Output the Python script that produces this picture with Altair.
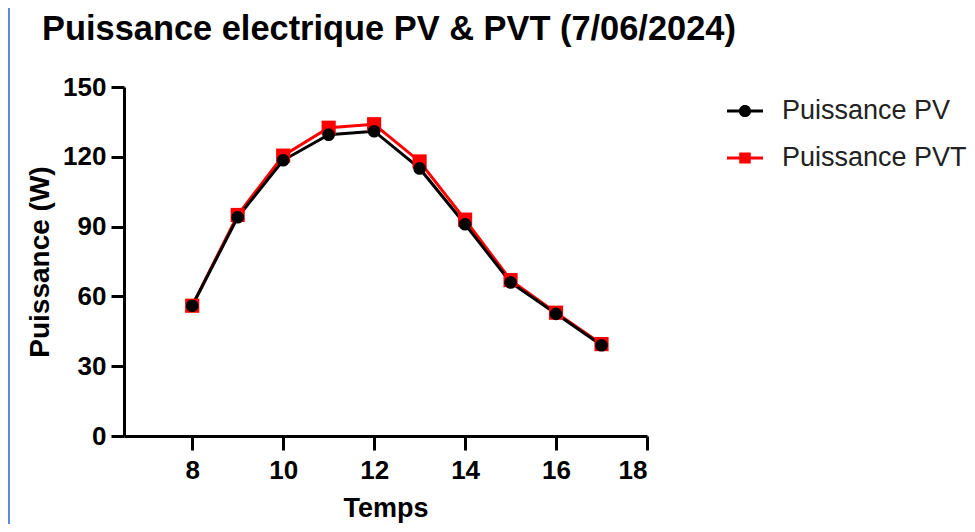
import altair as alt
import pandas as pd

hours = [8, 9, 10, 11, 12, 13, 14, 15, 16, 17]
pv = [56, 94, 118.5, 129.5, 131, 115, 91, 66, 52.5, 39]
pvt = [56, 95, 120.5, 132.5, 134, 118, 93, 67, 53, 39.5]
series = ["Puissance PV", "Puissance PVT"]
colors = ["#000000", "#FF0000"]

rows = []
for h, v in zip(hours, pvt):
    rows.append({"Temps": h, "P": v, "Serie": series[1]})
for h, v in zip(hours, pv):
    rows.append({"Temps": h, "P": v, "Serie": series[0]})
df = pd.DataFrame(rows)

FONT = "Liberation Sans"

x_enc = alt.X("Temps:Q",
              scale=alt.Scale(domain=[6.5, 18], nice=False, zero=False),
              axis=alt.Axis(values=[8, 10, 12, 14, 16, 18], title="Temps",
                            grid=False, tickSize=14, tickWidth=3, domainWidth=3,
                            domainColor="black", tickColor="black",
                            labelFontSize=26, labelFontWeight="bold", labelFont=FONT,
                            labelColor="black", labelPadding=7,
                            titleFontSize=27, titleFontWeight="bold", titleFont=FONT,
                            titleColor="black", titlePadding=12))
y_enc = alt.Y("P:Q",
              scale=alt.Scale(domain=[0, 150], nice=False),
              axis=alt.Axis(values=[0, 30, 60, 90, 120, 150], title="Puissance (W)",
                            grid=False, tickSize=13, tickWidth=3, domainWidth=3,
                            domainColor="black", tickColor="black",
                            labelFontSize=26, labelFontWeight="bold", labelFont=FONT,
                            labelColor="black", labelPadding=5,
                            titleFontSize=28, titleFontWeight="bold", titleFont=FONT,
                            titleColor="black", titlePadding=8))

color_nolegend = alt.Color("Serie:N", scale=alt.Scale(domain=series, range=colors), legend=None)

base = alt.Chart(df)

lines = base.mark_line(strokeWidth=3).encode(
    x=x_enc, y=y_enc, color=color_nolegend,
    order=alt.Order("Temps:Q"))

points = base.mark_point(filled=True, opacity=1).encode(
    x="Temps:Q", y="P:Q", color=color_nolegend,
    size=alt.Size("Serie:N", scale=alt.Scale(domain=series, range=[160, 200]), legend=None),
    shape=alt.Shape("Serie:N", scale=alt.Scale(domain=series, range=["circle", "square"]), legend=None))

leg_paths = [
    "M-1,-0.085H-0.3V0.085H-1Z M0.3,-0.085H1V0.085H0.3Z M0.34,0A0.34,0.34 0 1,1 -0.34,0A0.34,0.34 0 1,1 0.34,0Z",
    "M-1,-0.085H-0.32V0.085H-1Z M0.32,-0.085H1V0.085H0.32Z M-0.32,-0.3H0.32V0.3H-0.32Z",
]

leg = alt.Legend(title=None, orient="none", legendX=603, legendY=6,
                 symbolSize=1296, symbolOpacity=1, symbolStrokeWidth=0,
                 labelFontSize=27, labelFont=FONT, labelColor="#222222",
                 labelOffset=19, labelLimit=400, rowPadding=16, padding=0)

legend_layer = base.mark_point(filled=True, size=10, opacity=0).encode(
    x="Temps:Q", y="P:Q",
    color=alt.Color("Serie:N", scale=alt.Scale(domain=series, range=colors), legend=leg),
    shape=alt.Shape("Serie:N", scale=alt.Scale(domain=series, range=leg_paths), legend=leg))

frame_data = alt.Data(values=[{"k": 0}])
frame_v = alt.Chart(frame_data).mark_rule(color="#5B8DD6", strokeWidth=2).encode(
    x=alt.value(-115), y=alt.value(-82), y2=alt.value(440))
frame_h = alt.Chart(frame_data).mark_rule(color="#5B8DD6", strokeWidth=2).encode(
    x=alt.value(-115), x2=alt.value(850), y=alt.value(-82))

chart = alt.layer(frame_v, frame_h, lines, points, legend_layer).resolve_scale(
    shape="independent", color="independent", size="independent"
).properties(
    width=523, height=349,
    title=alt.Title("Puissance electrique PV & PVT (7/06/2024)", anchor="start",
                    frame="group",
                    fontSize=34.4, fontWeight="bold", font=FONT, color="black",
                    dx=-82, offset=-43),
    autosize=alt.AutoSizeParams(type="none"),
    padding={"left": 116, "top": 79, "right": 320, "bottom": 88},
).configure_view(stroke=None)

chart.save("out.html", embed_options={"renderer": "svg", "actions": False})
